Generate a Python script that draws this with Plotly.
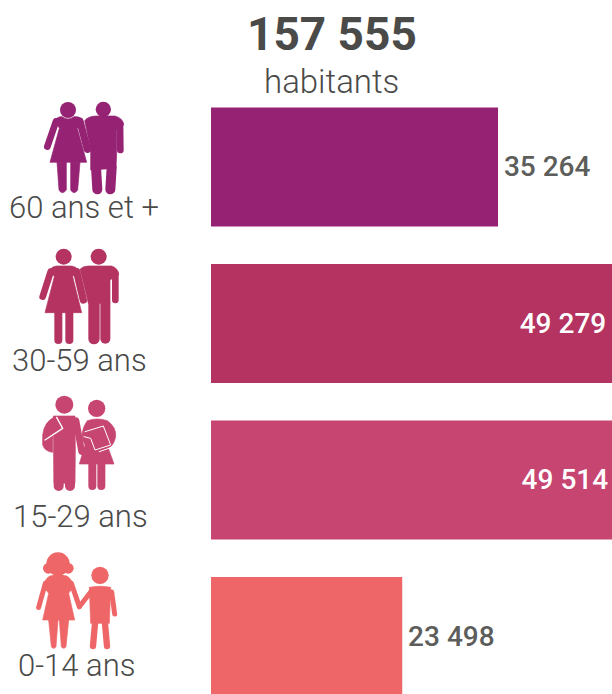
import base64
import plotly.graph_objects as go

categories = ["0-14 ans", "15-29 ans", "30-59 ans", "60 ans et +"]
population = [23498, 49514, 49279, 35264]
bar_colors = ["#EE6667", "#C74671", "#B43360", "#952273"]
value_text_colors = ["#5D5D5B", "#FFFFFF", "#FFFFFF", "#5D5D5B"]
value_positions = ["outside", "inside", "inside", "outside"]
total_label = "157 555"
total_unit = "habitants"

W, H = 612, 694
FONT = "Roboto"
TEXT = "#4A4A49"


def fmt(v, pos):
    s = f"{v:,}".replace(",", " ")
    return "\u200a" + s if pos == "outside" else s + "\u200a"


def limb(c, pts, w):
    d = "M" + " L".join(f"{x},{y}" for x, y in pts)
    return f'<path d="{d}" fill="none" stroke="{c}" stroke-width="{w}" stroke-linecap="round" stroke-linejoin="round"/>'


def poly(c, d):
    return f'<path d="{d}" fill="{c}" stroke="{c}" stroke-width="2" stroke-linejoin="round"/>'


def circ(c, x, y, r):
    return f'<circle cx="{x}" cy="{y}" r="{r}" fill="{c}"/>'


def icon_seniors(c):
    return "".join([
        circ(c, 204, 60, 24), circ(c, 310, 58, 23),
        poly(c, "M165,88 Q180,78 186,80 Q204,94 222,80 Q238,78 248,90 L232,115 L260,217 L150,217 L178,115 Z"),
        limb(c, [(168, 94), (142, 170)], 20),
        limb(c, [(240, 94), (262, 178)], 22),
        poly(c, "M171,217 L199,217 L199,300 Q186,316 177,300 Z"),
        poly(c, "M212,217 L240,217 L233,300 Q222,316 212,300 Z"),
        poly(c, "M254,92 Q265,78 290,78 L345,78 Q370,85 371,105 L350,120 L350,190 L348,235 L272,240 L272,180 Z"),
        limb(c, [(360, 102), (361, 180)], 20),
        limb(c, [(288, 232), (292, 298)], 30),
        limb(c, [(335, 232), (331, 298)], 30),
    ])


def icon_adults(c):
    return "".join([
        circ(c, 191, 500, 24), circ(c, 296, 500, 24),
        poly(c, "M150,538 Q160,528 170,528 L215,528 Q228,530 236,540 L218,560 L245,668 L135,668 L163,560 Z"),
        limb(c, [(152, 545), (128, 620)], 20),
        limb(c, [(230, 545), (250, 630)], 22),
        limb(c, [(175, 668), (175, 750)], 24),
        limb(c, [(208, 668), (208, 750)], 24),
        poly(c, "M240,538 Q250,528 265,528 L335,528 Q356,535 356,555 L330,570 L330,640 L265,640 Z"),
        limb(c, [(346, 552), (346, 630)], 20),
        limb(c, [(282, 640), (282, 746)], 34),
        limb(c, [(316, 640), (316, 746)], 30),
    ])


def icon_youth(c):
    w = "#fff"
    return "".join([
        circ(c, 193, 44, 27), circ(c, 290, 55, 26),
        poly(c, "M160,78 L225,78 L226,180 L225,280 L162,280 Z"),
        limb(c, [(228, 92), (245, 185)], 20),
        limb(c, [(176, 180), (176, 288)], 30),
        limb(c, [(210, 180), (210, 288)], 30),
        poly(c, "M165,80 Q132,95 128,135 L128,165 Q135,185 158,187 L158,150 Z"),
        limb(w, [(170, 82), (188, 115), (135, 150)], 4),
        poly(c, "M262,92 Q292,82 322,92 Q350,112 347,140 Q342,165 325,175 L342,222 L238,222 L255,165 Q235,130 262,92 Z"),
        limb(c, [(277, 222), (277, 288)], 24),
        limb(c, [(304, 222), (304, 288)], 24),
        limb(w, [(255, 125), (310, 108), (332, 165), (285, 180), (272, 145), (252, 140)], 3),
        limb(w, [(298, 185), (335, 172)], 3),
    ])


def icon_kids(c):
    return "".join([
        circ(c, 174, 522, 35), circ(c, 145, 535, 16), circ(c, 205, 535, 16),
        poly(c, "M150,558 Q175,550 200,558 Q215,565 220,590 L206,610 L224,690 L128,690 L146,610 L130,590 Q135,565 150,558 Z"),
        limb(c, [(136, 580), (116, 652)], 15),
        limb(c, [(214, 580), (238, 650)], 15),
        poly(c, "M146,690 L174,690 L168,770 Q160,780 154,770 Z"),
        poly(c, "M178,690 L206,690 L198,770 Q190,780 184,770 Z"),
        circ(c, 300, 556, 26),
        poly(c, "M268,592 Q300,585 332,592 L328,700 L272,700 Z"),
        limb(c, [(272, 606), (238, 650)], 15),
        limb(c, [(335, 606), (344, 672)], 15),
        limb(c, [(286, 690), (279, 768)], 19),
        limb(c, [(314, 690), (321, 768)], 19),
    ])


def svg_uri(body, w, h):
    s = f'<svg xmlns="http://www.w3.org/2000/svg" viewBox="0 0 {w*3} {h*3}" width="{w*3}" height="{h*3}">{body}</svg>'
    return "data:image/svg+xml;base64," + base64.b64encode(s.encode()).decode()


def image(body, x, y, w, h):
    return dict(source=svg_uri(body, w, h), xref="paper", yref="paper", x=x / W, y=1 - y / H,
                sizex=w / W, sizey=h / H, xanchor="left", yanchor="top", sizing="stretch", layer="above")


def label(text, x, y, size, color=TEXT, family=FONT, weight=None):
    return dict(text=text, x=x / W, y=1 - y / H, xref="paper", yref="paper", showarrow=False,
                xanchor="center", yanchor="middle",
                font=dict(family=family, size=size, color=color, weight=weight))


fig = go.Figure(go.Bar(
    y=categories, x=population, orientation="h", width=0.76,
    marker=dict(color=bar_colors, line=dict(width=0)),
    text=[fmt(v, p) for v, p in zip(population, value_positions)],
    textposition=value_positions,
    textangle=0,
    insidetextanchor="end",
    constraintext="none",
    cliponaxis=True,
    textfont=dict(family=FONT, size=28, weight=500, color=value_text_colors),
    hoverinfo="skip",
))

label_y = {"60 ans et +": 208, "30-59 ans": 360, "15-29 ans": 516, "0-14 ans": 665}
label_x = {"60 ans et +": 84, "30-59 ans": 79, "15-29 ans": 80, "0-14 ans": 76}

fig.update_layout(
    width=W, height=H, margin=dict(l=0, r=0, t=0, b=0), autosize=False,
    paper_bgcolor="white", plot_bgcolor="white", showlegend=False,
    xaxis=dict(domain=[211 / W, 1], range=[0, 49270], visible=False, fixedrange=True),
    yaxis=dict(type="category", range=[-0.367, 4.066], visible=False, fixedrange=True),
    annotations=[
        label(total_label, 332, 34, 46, weight=700),
        label(total_unit, 331, 82, 33, weight=300),
    ] + [label(c, label_x[c], label_y[c], 31, weight=300) for c in categories],
    images=[
        image(icon_seniors("#952273") + icon_adults("#B43360"), 0, 90, 210, 300),
        image(icon_youth("#C74671") + icon_kids("#EE6667"), 0, 390, 210, 304),
    ],
)

fig.write_html("out.html", post_script="document.body.style.margin='0';", config={"displayModeBar": False})
